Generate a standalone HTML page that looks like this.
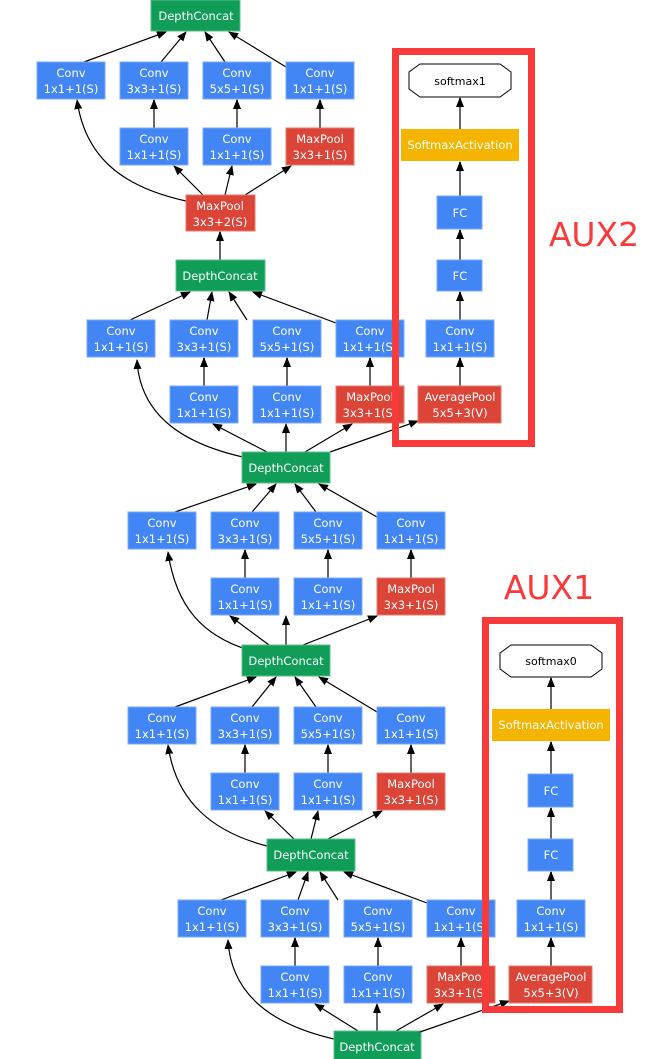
<!DOCTYPE html>
<html><head><meta charset="utf-8"><style>
html,body{margin:0;padding:0;background:#fff;}
svg{display:block;}
text{font-family:"DejaVu Sans","Liberation Sans",sans-serif;font-size:11.5px;fill:#fff;text-anchor:middle;}
.b{fill:#4285f4;stroke:#7aa9f7;stroke-width:1}
.r{fill:#db4437;stroke:#e57a6f;stroke-width:1}
.g{fill:#0f9d58;stroke:#5cbf8b;stroke-width:1}
.y{fill:#f4b400;}
.e{stroke:#000;stroke-width:1.2;fill:none;marker-end:url(#a)}
.v{stroke:#666;stroke-width:2;fill:none;marker-end:url(#a)}
</style></head><body>
<svg width="657" height="1059" viewBox="0 0 657 1059" xmlns="http://www.w3.org/2000/svg">
<defs><marker id="a" markerUnits="userSpaceOnUse" markerWidth="10" markerHeight="10" refX="9" refY="5" orient="auto"><path d="M0,1 L10,5 L0,9 z" fill="#000"/></marker></defs>

<!-- incoming lines at top of image -->
<g class="e"><line x1="170" y1="-5" x2="176" y2="0"/><line x1="185" y1="-5" x2="188" y2="0"/><line x1="205" y1="-5" x2="203" y2="0"/><line x1="225" y1="-5" x2="222" y2="0"/></g>

<!-- Block A: origin (37,62), oc=159, ic=183 -->
<g transform="translate(37,62)">
<g class="e">
<line x1="47" y1="0" x2="129" y2="-30"/><line x1="124" y1="0" x2="149" y2="-30"/><line x1="188" y1="0" x2="168" y2="-30"/><line x1="249" y1="5" x2="192" y2="-30"/>
<line x1="166" y1="133" x2="137" y2="104"/><line x1="188" y1="133" x2="195" y2="104"/><line x1="208" y1="133" x2="254" y2="104"/>
<path d="M149,139 C85,125 48,95 40,38"/>
</g>
<g class="v"><line x1="117" y1="66" x2="117" y2="38"/><line x1="200" y1="66" x2="200" y2="38"/><line x1="283" y1="66" x2="283" y2="38"/></g>
</g>
<rect class="g" x="151" y="0" width="89" height="31"/><text x="196" y="20">DepthConcat</text>
<rect class="b" x="37" y="62" width="68" height="37"/><text x="71" y="77">Conv</text><text x="71" y="93">1x1+1(S)</text>
<rect class="b" x="120" y="62" width="68" height="37"/><text x="154" y="77">Conv</text><text x="154" y="93">3x3+1(S)</text>
<rect class="b" x="203" y="62" width="68" height="37"/><text x="237" y="77">Conv</text><text x="237" y="93">5x5+1(S)</text>
<rect class="b" x="286" y="62" width="68" height="37"/><text x="320" y="77">Conv</text><text x="320" y="93">1x1+1(S)</text>
<rect class="b" x="120" y="128" width="68" height="37"/><text x="154" y="143">Conv</text><text x="154" y="159">1x1+1(S)</text>
<rect class="b" x="203" y="128" width="68" height="37"/><text x="237" y="143">Conv</text><text x="237" y="159">1x1+1(S)</text>
<rect class="r" x="286" y="128" width="68" height="37"/><text x="320" y="143">MaxPool</text><text x="320" y="159">3x3+1(S)</text>
<rect class="r" x="186" y="195" width="69" height="36"/><text x="220" y="210">MaxPool</text><text x="220" y="226">3x3+2(S)</text>
<line class="v" x1="220" y1="260" x2="220" y2="232"/>

<!-- Block B: origin (87,320), oc=133, ic=199 -->
<g transform="translate(87,320)">
<g class="e">
<line x1="43" y1="0" x2="103" y2="-28"/><line x1="120" y1="0" x2="125" y2="-28"/><line x1="160" y1="0" x2="142" y2="-28"/><line x1="249" y1="3" x2="166" y2="-28"/>
<line x1="180" y1="132" x2="126" y2="104"/><line x1="199" y1="132" x2="199" y2="104"/><line x1="218" y1="132" x2="265" y2="104"/>
<path d="M165,139 C95,125 53,95 50,40"/>
</g>
<g class="v"><line x1="117" y1="66" x2="117" y2="38"/><line x1="200" y1="66" x2="200" y2="38"/><line x1="283" y1="66" x2="283" y2="38"/></g>
</g>
<rect class="g" x="176" y="260" width="89" height="31"/><text x="220" y="280">DepthConcat</text>
<rect class="b" x="87" y="320" width="68" height="37"/><text x="121" y="335">Conv</text><text x="121" y="351">1x1+1(S)</text>
<rect class="b" x="170" y="320" width="68" height="37"/><text x="204" y="335">Conv</text><text x="204" y="351">3x3+1(S)</text>
<rect class="b" x="253" y="320" width="68" height="37"/><text x="287" y="335">Conv</text><text x="287" y="351">5x5+1(S)</text>
<rect class="b" x="336" y="320" width="68" height="37"/><text x="370" y="335">Conv</text><text x="370" y="351">1x1+1(S)</text>
<rect class="b" x="170" y="386" width="68" height="37"/><text x="204" y="401">Conv</text><text x="204" y="417">1x1+1(S)</text>
<rect class="b" x="253" y="386" width="68" height="37"/><text x="287" y="401">Conv</text><text x="287" y="417">1x1+1(S)</text>
<rect class="r" x="336" y="386" width="68" height="37"/><text x="370" y="401">MaxPool</text><text x="370" y="417">3x3+1(S)</text>

<!-- AUX2 -->
<line class="e" x1="330" y1="452" x2="418" y2="421"/>
<g class="v"><line x1="460" y1="386" x2="460" y2="358"/><line x1="460" y1="320" x2="460" y2="292"/><line x1="460" y1="260" x2="460" y2="230"/><line x1="460" y1="196" x2="460" y2="162"/><line x1="460" y1="129" x2="460" y2="98"/></g>
<rect class="r" x="418" y="386" width="83" height="37"/><text x="460" y="401">AveragePool</text><text x="460" y="417">5x5+3(V)</text>
<rect class="b" x="426" y="320" width="68" height="37"/><text x="460" y="335">Conv</text><text x="460" y="351">1x1+1(S)</text>
<rect class="b" x="437" y="260" width="45" height="31"/><text x="460" y="280">FC</text>
<rect class="b" x="437" y="196" width="45" height="33"/><text x="460" y="217">FC</text>
<rect class="y" x="401" y="129" width="118" height="32"/><text x="460" y="149">SoftmaxActivation</text>
<polygon points="420,64 500,64 511,72 511,89 500,97 420,97 409,89 409,72" fill="#fff" stroke="#000" stroke-width="1"/><text x="460" y="85" style="fill:#000;font-size:11px">softmax1</text>
<rect x="395.5" y="51.5" width="136" height="392" fill="none" stroke="#f93a3a" stroke-width="7"/>
<text x="594" y="246" style="fill:#f93a3a;font-size:33px;font-family:'DejaVu Sans',sans-serif">AUX2</text>

<!-- Block C: origin (128,512), oc=158, ic=158 -->
<g transform="translate(128,512)">
<g class="e">
<line x1="47" y1="0" x2="128" y2="-28"/><line x1="124" y1="0" x2="148" y2="-28"/><line x1="188" y1="0" x2="167" y2="-28"/><line x1="249" y1="5" x2="191" y2="-28"/>
<line x1="141" y1="133" x2="102" y2="104"/><line x1="158" y1="133" x2="158" y2="104"/><line x1="175" y1="133" x2="249" y2="104"/>
<path d="M124,139 C75,125 48,95 40,40"/>
</g>
<g class="v"><line x1="117" y1="66" x2="117" y2="38"/><line x1="200" y1="66" x2="200" y2="38"/><line x1="283" y1="66" x2="283" y2="38"/></g>
</g>
<rect class="g" x="242" y="452" width="88" height="31"/><text x="286" y="472">DepthConcat</text>
<rect class="b" x="128" y="512" width="68" height="37"/><text x="162" y="527">Conv</text><text x="162" y="543">1x1+1(S)</text>
<rect class="b" x="211" y="512" width="68" height="37"/><text x="245" y="527">Conv</text><text x="245" y="543">3x3+1(S)</text>
<rect class="b" x="294" y="512" width="68" height="37"/><text x="328" y="527">Conv</text><text x="328" y="543">5x5+1(S)</text>
<rect class="b" x="377" y="512" width="68" height="37"/><text x="411" y="527">Conv</text><text x="411" y="543">1x1+1(S)</text>
<rect class="b" x="211" y="578" width="68" height="37"/><text x="245" y="593">Conv</text><text x="245" y="609">1x1+1(S)</text>
<rect class="b" x="294" y="578" width="68" height="37"/><text x="328" y="593">Conv</text><text x="328" y="609">1x1+1(S)</text>
<rect class="r" x="377" y="578" width="68" height="37"/><text x="411" y="593">MaxPool</text><text x="411" y="609">3x3+1(S)</text>

<!-- Block D: origin (128,707), oc=158, ic=183 -->
<g transform="translate(128,707)">
<g class="e">
<line x1="47" y1="0" x2="128" y2="-30"/><line x1="124" y1="0" x2="148" y2="-30"/><line x1="188" y1="0" x2="167" y2="-30"/><line x1="249" y1="5" x2="191" y2="-30"/>
<line x1="166" y1="132" x2="137" y2="104"/><line x1="183" y1="132" x2="190" y2="104"/><line x1="200" y1="132" x2="254" y2="104"/>
<path d="M139,139 C85,125 48,95 40,38"/>
</g>
<g class="v"><line x1="117" y1="66" x2="117" y2="38"/><line x1="200" y1="66" x2="200" y2="38"/><line x1="283" y1="66" x2="283" y2="38"/></g>
</g>
<rect class="g" x="242" y="645" width="88" height="31"/><text x="286" y="665">DepthConcat</text>
<rect class="b" x="128" y="707" width="68" height="37"/><text x="162" y="722">Conv</text><text x="162" y="738">1x1+1(S)</text>
<rect class="b" x="211" y="707" width="68" height="37"/><text x="245" y="722">Conv</text><text x="245" y="738">3x3+1(S)</text>
<rect class="b" x="294" y="707" width="68" height="37"/><text x="328" y="722">Conv</text><text x="328" y="738">5x5+1(S)</text>
<rect class="b" x="377" y="707" width="68" height="37"/><text x="411" y="722">Conv</text><text x="411" y="738">1x1+1(S)</text>
<rect class="b" x="211" y="773" width="68" height="37"/><text x="245" y="788">Conv</text><text x="245" y="804">1x1+1(S)</text>
<rect class="b" x="294" y="773" width="68" height="37"/><text x="328" y="788">Conv</text><text x="328" y="804">1x1+1(S)</text>
<rect class="r" x="377" y="773" width="68" height="37"/><text x="411" y="788">MaxPool</text><text x="411" y="804">3x3+1(S)</text>

<!-- Block E: origin (178,900), oc=133, ic=199 -->
<g transform="translate(178,900)">
<g class="e">
<line x1="43" y1="0" x2="118" y2="-28"/><line x1="120" y1="0" x2="130" y2="-28"/><line x1="160" y1="0" x2="142" y2="-28"/><line x1="249" y1="3" x2="166" y2="-28"/>
<line x1="180" y1="131" x2="137" y2="104"/><line x1="199" y1="131" x2="199" y2="104"/><line x1="218" y1="131" x2="265" y2="104"/>
<path d="M156,139 C95,125 53,95 50,40"/>
</g>
<g class="v"><line x1="117" y1="66" x2="117" y2="38"/><line x1="200" y1="66" x2="200" y2="38"/><line x1="283" y1="66" x2="283" y2="38"/></g>
</g>
<rect class="g" x="267" y="839" width="88" height="32"/><text x="311" y="859">DepthConcat</text>
<rect class="b" x="178" y="900" width="68" height="37"/><text x="212" y="915">Conv</text><text x="212" y="931">1x1+1(S)</text>
<rect class="b" x="261" y="900" width="68" height="37"/><text x="295" y="915">Conv</text><text x="295" y="931">3x3+1(S)</text>
<rect class="b" x="344" y="900" width="68" height="37"/><text x="378" y="915">Conv</text><text x="378" y="931">5x5+1(S)</text>
<rect class="b" x="427" y="900" width="68" height="37"/><text x="461" y="915">Conv</text><text x="461" y="931">1x1+1(S)</text>
<rect class="b" x="261" y="966" width="68" height="37"/><text x="295" y="981">Conv</text><text x="295" y="997">1x1+1(S)</text>
<rect class="b" x="344" y="966" width="68" height="37"/><text x="378" y="981">Conv</text><text x="378" y="997">1x1+1(S)</text>
<rect class="r" x="427" y="966" width="68" height="37"/><text x="461" y="981">MaxPool</text><text x="461" y="997">3x3+1(S)</text>
<rect class="g" x="334" y="1031" width="87" height="32"/><text x="377" y="1051">DepthConcat</text>

<!-- AUX1 -->
<line class="e" x1="420" y1="1032" x2="509" y2="1001"/>
<g class="v"><line x1="551" y1="966" x2="551" y2="938"/><line x1="551" y1="900" x2="551" y2="872"/><line x1="551" y1="839" x2="551" y2="808"/><line x1="551" y1="774" x2="551" y2="742"/><line x1="551" y1="709" x2="551" y2="678"/></g>
<rect class="r" x="509" y="966" width="83" height="37"/><text x="551" y="981">AveragePool</text><text x="551" y="997">5x5+3(V)</text>
<rect class="b" x="517" y="900" width="68" height="37"/><text x="551" y="915">Conv</text><text x="551" y="931">1x1+1(S)</text>
<rect class="b" x="528" y="839" width="45" height="32"/><text x="551" y="859">FC</text>
<rect class="b" x="528" y="774" width="45" height="33"/><text x="551" y="795">FC</text>
<rect class="y" x="492" y="709" width="118" height="32"/><text x="551" y="729">SoftmaxActivation</text>
<polygon points="511,645 591,645 602,653 602,669 591,677 511,677 500,669 500,653" fill="#fff" stroke="#000" stroke-width="1"/><text x="551" y="665" style="fill:#000;font-size:11px">softmax0</text>
<rect x="485.5" y="620.5" width="134" height="389" fill="none" stroke="#f93a3a" stroke-width="7"/>
<text x="549" y="599" style="fill:#f93a3a;font-size:33px;font-family:'DejaVu Sans',sans-serif">AUX1</text>
</svg>
</body></html>
